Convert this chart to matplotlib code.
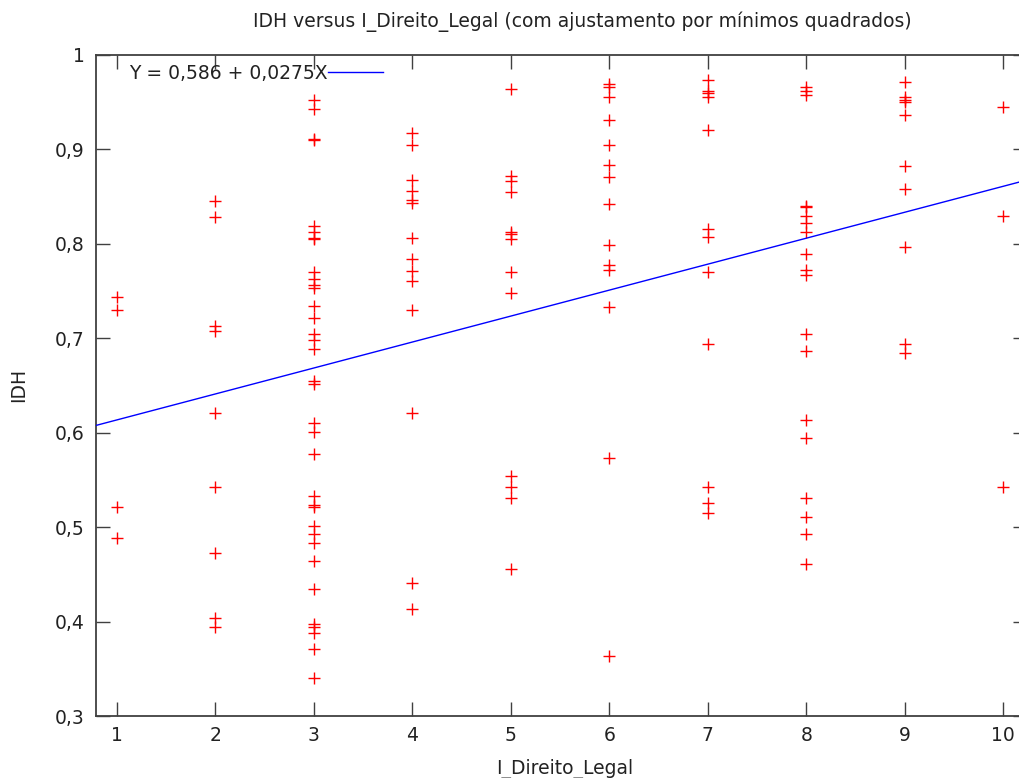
"""IDH vs I_Direito_Legal scatter with least-squares line (gnuplot look)."""

import matplotlib

matplotlib.use("Agg")
import matplotlib.pyplot as plt
from matplotlib.ticker import FuncFormatter

# IDH values, grouped by I_Direito_Legal score
SCORES = [1, 2, 3, 4, 5, 6, 7, 8, 9, 10]
idh_1 = [0.744, 0.730, 0.521, 0.489]
idh_2 = [0.845, 0.828, 0.713, 0.708, 0.621, 0.543, 0.473, 0.404, 0.394]
idh_3 = [0.952, 0.943, 0.911, 0.910, 0.819, 0.813, 0.806, 0.805, 0.770, 0.763,
         0.756, 0.753, 0.734, 0.721, 0.705, 0.698, 0.689, 0.655, 0.652, 0.610,
         0.601, 0.577, 0.533, 0.523, 0.521, 0.501, 0.493, 0.483, 0.464, 0.434,
         0.397, 0.394, 0.388, 0.371, 0.340]
idh_4 = [0.917, 0.905, 0.868, 0.856, 0.846, 0.843, 0.806, 0.784, 0.771, 0.761,
         0.730, 0.621, 0.441, 0.413]
idh_5 = [0.964, 0.872, 0.867, 0.855, 0.813, 0.810, 0.805, 0.770, 0.748, 0.554,
         0.542, 0.531, 0.456]
idh_6 = [0.969, 0.966, 0.955, 0.931, 0.905, 0.883, 0.871, 0.842, 0.799, 0.778,
         0.772, 0.733, 0.573, 0.364]
idh_7 = [0.974, 0.962, 0.960, 0.955, 0.921, 0.816, 0.807, 0.770, 0.694, 0.543,
         0.526, 0.515]
idh_8 = [0.966, 0.962, 0.958, 0.840, 0.839, 0.829, 0.822, 0.813, 0.789, 0.772,
         0.767, 0.705, 0.687, 0.613, 0.594, 0.531, 0.511, 0.493, 0.461]
idh_9 = [0.971, 0.955, 0.952, 0.950, 0.936, 0.882, 0.858, 0.797, 0.694, 0.684]
idh_10 = [0.945, 0.829, 0.542]
IDH_GROUPS = [idh_1, idh_2, idh_3, idh_4, idh_5, idh_6, idh_7, idh_8, idh_9, idh_10]

# least-squares fit shown in the key
INTERCEPT = 0.586
SLOPE = 0.0275

X_RANGE = (0.79, 10.24)
Y_RANGE = (0.3, 1.0)
Y_TICKS = [0.3, 0.4, 0.5, 0.6, 0.7, 0.8, 0.9, 1.0]

AXIS_COLOR = "#404040"
TEXT_COLOR = "#222222"
FONT_SIZE = 13.5

plt.rcParams.update({"font.family": "DejaVu Sans", "font.size": FONT_SIZE})

W, H = 1019, 778
fig = plt.figure(figsize=(W / 100, H / 100), dpi=100)
# right border of the plot falls just outside the picture, as in the original
left, right, top, bottom = 96, 1027, 55, 716
ax = fig.add_axes([left / W, 1 - bottom / H, (right - left) / W, (bottom - top) / H])

xs, ys = [], []
for score, vals in zip(SCORES, IDH_GROUPS):
    xs.extend([score] * len(vals))
    ys.extend(vals)
ax.plot(xs, ys, linestyle="none", marker="+", markersize=9, markeredgewidth=1.0,
        color="#ff0000", zorder=3)

fit_x = list(X_RANGE)
fit_y = [INTERCEPT + SLOPE * v for v in fit_x]
fit_label = "Y = 0,586 + 0,0275X"
ax.plot(fit_x, fit_y, color="#0000ff", linewidth=1.0, label=fit_label, zorder=4)

ax.set_xlim(*X_RANGE)
ax.set_ylim(*Y_RANGE)
ax.set_xticks(SCORES)
ax.set_yticks(Y_TICKS)


def _comma(v, _pos):
    if abs(v - round(v)) < 1e-9:
        return f"{int(round(v))}"
    return f"{v:.1f}".replace(".", ",")


ax.yaxis.set_major_formatter(FuncFormatter(_comma))
ax.tick_params(direction="in", length=10, width=1.0, color=AXIS_COLOR,
               labelcolor=TEXT_COLOR, top=True, right=True)
ax.tick_params(axis="x", pad=7)
ax.tick_params(axis="y", pad=8)
for sp in ax.spines.values():
    sp.set_color(AXIS_COLOR)
    sp.set_linewidth(1.3)

leg = ax.legend(loc="upper left", bbox_to_anchor=(0.035, 0.987), frameon=False,
                markerfirst=False, handlelength=2.9, handletextpad=0.05,
                borderpad=0, borderaxespad=0, fontsize=FONT_SIZE)
for t in leg.get_texts():
    t.set_color(TEXT_COLOR)

fig.text(582 / W, 1 - 22 / H, "IDH versus I_Direito_Legal (com ajustamento por mínimos quadrados)",
         ha="center", va="center", color=TEXT_COLOR)
fig.text(565 / W, 1 - 769 / H, "I_Direito_Legal", ha="center", va="center", color=TEXT_COLOR)
fig.text(19 / W, 1 - 385 / H, "IDH", ha="center", va="center", rotation=90, color=TEXT_COLOR)

fig.savefig("out.png", dpi=100)
